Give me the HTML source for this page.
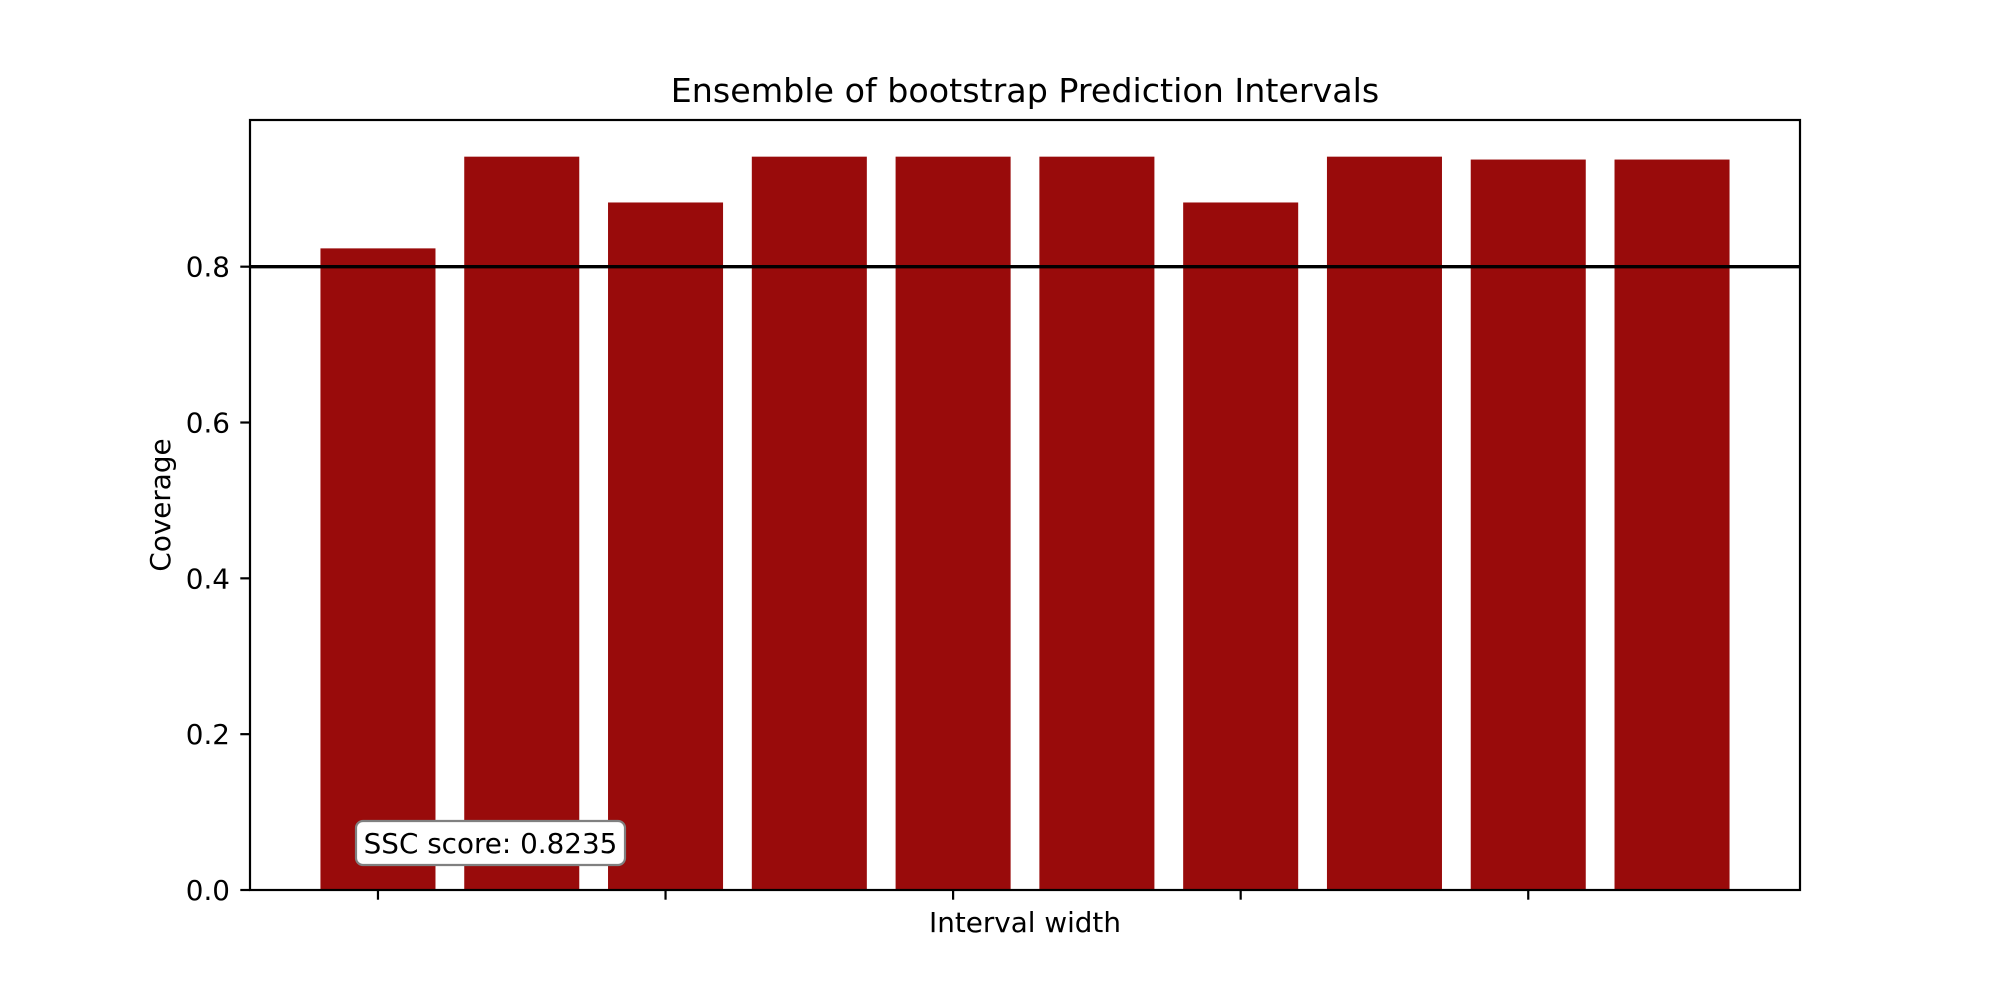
<!DOCTYPE html>
<html><head><meta charset="utf-8"><style>
html,body{margin:0;padding:0;background:#fff;}
svg{display:block;font-family:"DejaVu Sans","Liberation Sans",sans-serif;}
</style></head><body>
<svg id="chart" width="2000" height="1000" viewBox="0 0 2000 1000">
<rect width="2000" height="1000" fill="#fff"/>
<g id="bars"></g>
<g id="axes"></g>
</svg>
<script>
const categories = ["0","1","2","3","4","5","6","7","8","9"];
const coverage = [0.8235, 0.9412, 0.8824, 0.9412, 0.9412, 0.9412, 0.8824, 0.9412, 0.9375, 0.9375];
const yTicks = [0.0, 0.2, 0.4, 0.6, 0.8];
const xTickIdx = [0, 2, 4, 6, 8];
const targetLine = 0.8;
const sscScore = "0.8235";

const NS = "http://www.w3.org/2000/svg";
const L = 250, R = 1800, T = 120, B = 890;
const n = categories.length;
const span = (n - 1) + 0.8;
const xMin = -0.4 - 0.05 * span, xMax = (n - 1) + 0.4 + 0.05 * span;
const yMax = Math.max(...coverage) * 1.05;
const xs = v => L + (v - xMin) / (xMax - xMin) * (R - L);
const ys = v => B - v / yMax * (B - T);
function mk(tag, attrs, parent, text) {
  const e = document.createElementNS(NS, tag);
  for (const k in attrs) e.setAttribute(k, attrs[k]);
  if (text !== undefined) e.textContent = text;
  parent.appendChild(e);
  return e;
}
const bars = document.getElementById("bars");
const axes = document.getElementById("axes");
coverage.forEach((v, i) => {
  const x0 = xs(i - 0.4), x1 = xs(i + 0.4);
  const r = mk("rect", {x: x0, y: ys(v), width: x1 - x0, height: B - ys(v), fill: "#990b0b"}, bars);
  
  
});
const hl = mk("line", {x1: L, x2: R, y1: ys(targetLine), y2: ys(targetLine), stroke: "#000", "stroke-width": 3.4}, axes);


const frame = mk("rect", {x: L, y: T, width: R - L, height: B - T, fill: "none", stroke: "#000", "stroke-width": 2.2}, axes);


yTicks.forEach(t => {
  const y = ys(t);
  const tk = mk("line", {x1: L - 9.7, x2: L, y1: y, y2: y, stroke: "#000", "stroke-width": 2.2}, axes);
  
  
  const lb = mk("text", {x: L - 20, y: y + 10, "text-anchor": "end", "font-size": 27.8}, axes, t.toFixed(1));
  
  
});
xTickIdx.forEach(i => {
  const x = xs(i);
  const tk = mk("line", {x1: x, x2: x, y1: B, y2: B + 9.7, stroke: "#000", "stroke-width": 2.2}, axes);
  
  
});
const title = mk("text", {x: (L + R) / 2, y: 102, "text-anchor": "middle", "font-size": 33.3}, axes, "Ensemble of bootstrap Prediction Intervals");


const xl = mk("text", {x: (L + R) / 2, y: 932, "text-anchor": "middle", "font-size": 27.8}, axes, "Interval width");


const yl = mk("text", {x: 0, y: 0, "text-anchor": "middle", "font-size": 27.8, transform: "translate(170," + ((T + B) / 2) + ") rotate(-90)"}, axes, "Coverage");


const box = mk("rect", {x: 356, y: 821, width: 269, height: 44, rx: 7, fill: "#fff", stroke: "#808080", "stroke-width": 2.2}, axes);


const st = mk("text", {x: 490.5, y: 853, "text-anchor": "middle", "font-size": 27.8}, axes, "SSC score: " + sscScore);


</script>
</body></html>
